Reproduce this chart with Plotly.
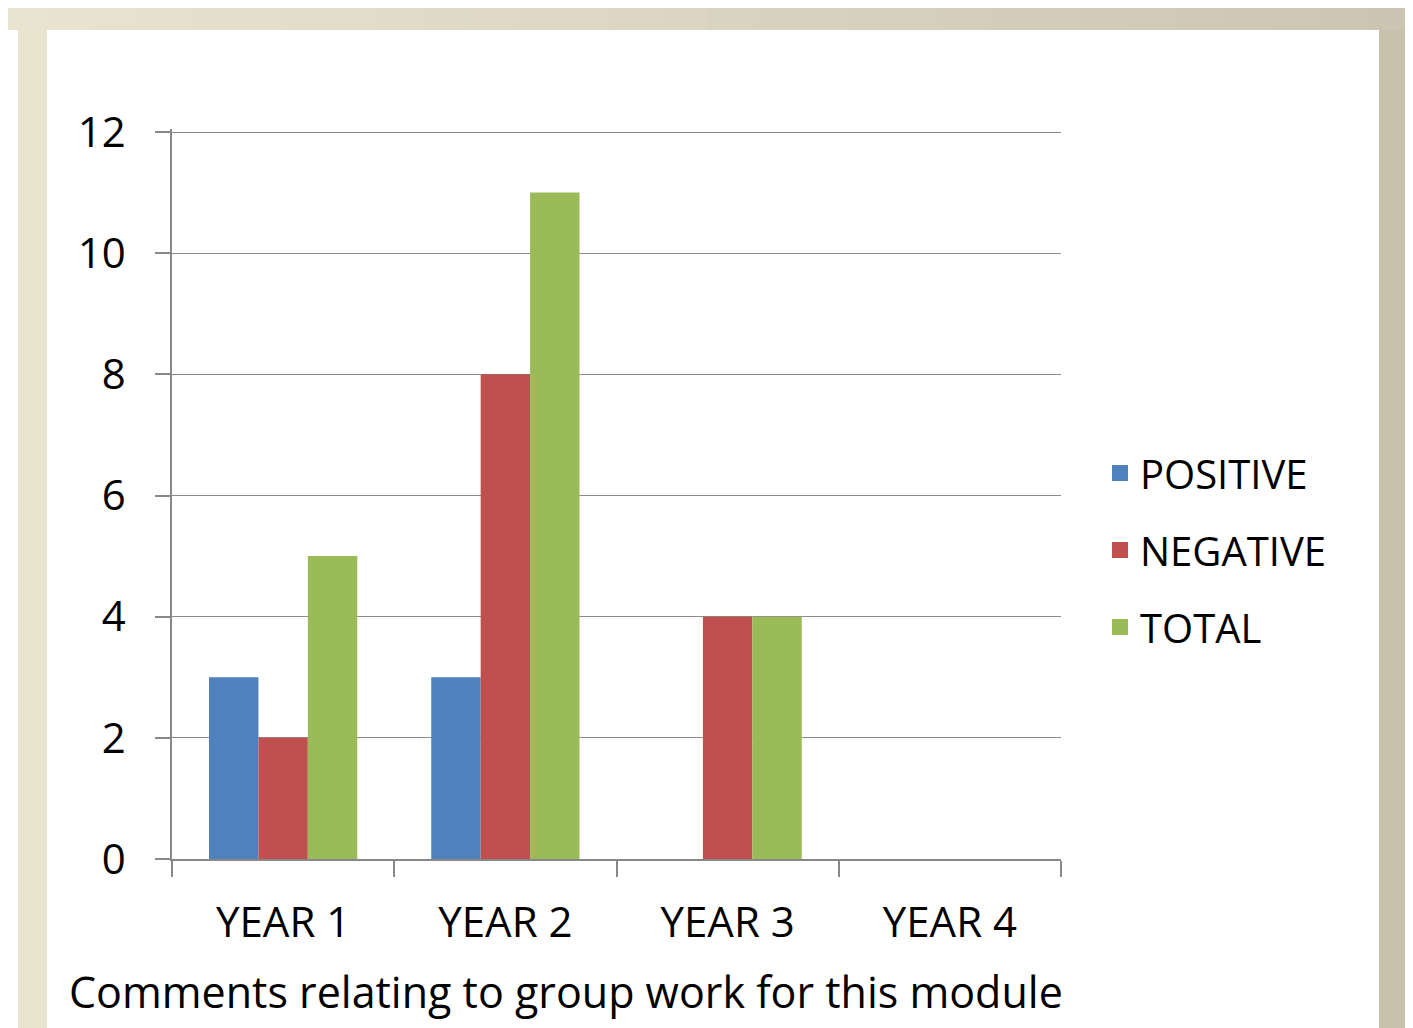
import plotly.graph_objects as go

categories = ["YEAR 1", "YEAR 2", "YEAR 3", "YEAR 4"]
positive = [3, 3, 0, 0]
negative = [2, 8, 4, 0]
total = [5, 11, 4, 0]
series_names = ["POSITIVE", "NEGATIVE", "TOTAL"]
series_colors = ["#4F81BD", "#C0504D", "#9BBB59"]
y_ticks = [0, 2, 4, 6, 8, 10, 12]
x_title = "Comments relating to group work for this module"

# page has an 8px body margin; work in page coords then shift
OFF = 8
PW, PH = 1413, 1028
W, H = PW - OFF, PH - OFF
Y_TOP = 12.05
B_page, T12_page = 859, 132
T_page = B_page - (B_page - T12_page) * Y_TOP / 12
L, R, T, B = 172 - OFF, 1061 - OFF, T_page - OFF, B_page - OFF

FONT = "Open Sans"


def px(xp):
    return (xp - OFF - L) / (R - L)


def py(yp):
    return (B - (yp - OFF)) / (B - T)


fig = go.Figure()
for name, vals, col in zip(series_names, [positive, negative, total], series_colors):
    fig.add_trace(go.Bar(x=categories, y=vals, name=name, marker_color=col,
                         marker_line_width=0, legendgroup=name, showlegend=False))
    fig.add_trace(go.Scatter(x=[None], y=[None], mode="markers", name=name,
                             legendgroup=name, showlegend=True,
                             marker=dict(symbol="square", size=30, color=col)))

def lerp(c1, c2, t):
    return "#%02x%02x%02x" % tuple(int(round(a + (b - a) * t)) for a, b in zip(c1, c2))

c_left = (234, 229, 208)
c_right = (202, 196, 176)
shapes = []
n = 30
for i in range(n):
    x0 = PW * i / n
    x1 = PW * (i + 1) / n + 1
    shapes.append(dict(type="rect", xref="paper", yref="paper",
                       x0=px(x0), x1=px(x1), y0=py(-20), y1=py(30),
                       fillcolor=lerp(c_left, c_right, (i + 0.5) / n), line_width=0, layer="below"))
shapes.append(dict(type="rect", xref="paper", yref="paper",
                   x0=px(18), x1=px(47), y0=py(30), y1=py(PH + 20),
                   fillcolor="#E9E4CE", line_width=0, layer="below"))
shapes.append(dict(type="rect", xref="paper", yref="paper",
                   x0=px(1379), x1=px(PW + 20), y0=py(30), y1=py(PH + 20),
                   fillcolor="#C8C2AD", line_width=0, layer="below"))

fig.update_layout(
    width=W, height=H,
    margin=dict(l=L, r=W - R, t=T, b=H - B, pad=0),
    paper_bgcolor="white", plot_bgcolor="white",
    barmode="group", bargap=0.333, bargroupgap=0,
    font=dict(family=FONT, color="black"),
    shapes=shapes,
    showlegend=True,
    legend=dict(x=px(1100), xanchor="left",
                y=py(550), yanchor="middle",
                font=dict(size=40, family=FONT), tracegroupgap=22,
                bgcolor="rgba(0,0,0,0)", itemsizing="trace"),
    xaxis=dict(showgrid=False, showline=True, linecolor="#888888", linewidth=1.5,
               ticks="outside", tickson="boundaries", ticklen=16, tickwidth=1.5,
               tickcolor="#888888", tickfont=dict(size=42, family=FONT), ticklabelstandoff=26),
    yaxis=dict(range=[0, Y_TOP], tickvals=y_ticks, showgrid=True, gridcolor="#8C8C8C",
               gridwidth=1, showline=True, linecolor="#888888", linewidth=1.5,
               ticks="outside", ticklen=15, tickwidth=1.5, tickcolor="#888888",
               tickfont=dict(size=42, family=FONT), ticklabelstandoff=21, zeroline=False),
    annotations=[dict(text=x_title, xref="paper", yref="paper",
                      x=px(566), y=py(992),
                      xanchor="center", yanchor="middle", showarrow=False,
                      font=dict(size=43, family=FONT, color="black"))],
)

fig.write_html("out.html")
